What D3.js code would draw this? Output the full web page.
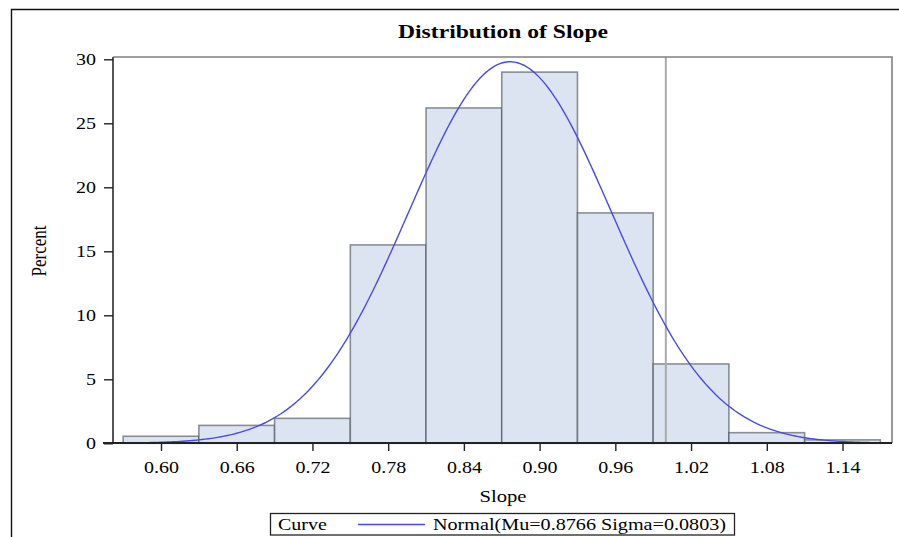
<!DOCTYPE html>
<html>
<head>
<meta charset="utf-8">
<script src="https://cdn.jsdelivr.net/npm/d3@7"></script>
<style>
  html, body { margin: 0; padding: 0; background: #fff; }
  svg { display: block; }
  text { font-family: "Liberation Serif", "Times New Roman", serif; fill: #000; }
</style>
</head>
<body>
<svg id="chart" width="899" height="537"></svg>
<script>
// Histogram bins (midpoints) and percent of observations in each bin
const binMidpoints = [0.60, 0.66, 0.72, 0.78, 0.84, 0.90, 0.96, 1.02, 1.08, 1.14];
const binPercents  = [0.55, 1.4, 1.95, 15.5, 26.2, 29.0, 18.0, 6.2, 0.83, 0.27];
const binWidth = 0.06;

// Fitted normal curve parameters
const normalMu = 0.8766;
const normalSigma = 0.0803;

// Axis ticks and reference line
const xTicks = [0.60, 0.66, 0.72, 0.78, 0.84, 0.90, 0.96, 1.02, 1.08, 1.14];
const yTicks = [0, 5, 10, 15, 20, 25, 30];
const referenceX = 1.0;

const titleText = "Distribution of Slope";
const xLabel = "Slope";
const yLabel = "Percent";
const legendTitle = "Curve";
const legendEntry = "Normal(Mu=0.8766 Sigma=0.0803)";

const svg = d3.select("#chart");
const plot = { left: 113, right: 892, top: 57, bottom: 443 };
const stretch = 1.25;   // horizontal widening of text glyphs

const x = d3.scaleLinear().domain([0.60, 1.14]).range([161, 842.5]);
const y = d3.scaleLinear().domain([0, 30]).range([443.3, 59.3]);

// outer frame
svg.append("path")
  .attr("d", `M11.5,545 L11.5,9.5 L905,9.5`)
  .attr("fill", "none").attr("stroke", "#111").attr("stroke-width", 1.4);

// histogram bars
svg.append("g").selectAll("rect")
  .data(binMidpoints.map((m, i) => ({ m, p: binPercents[i] })))
  .join("rect")
  .attr("x", d => x(d.m - binWidth / 2))
  .attr("width", d => x(d.m + binWidth / 2) - x(d.m - binWidth / 2))
  .attr("y", d => y(d.p))
  .attr("height", d => y(0) - y(d.p))
  .attr("fill", "#dbe4f0")
  .attr("stroke", "rgba(70,75,82,0.6)")
  .attr("stroke-width", 1.6);

// reference line
svg.append("line")
  .attr("x1", x(referenceX)).attr("x2", x(referenceX))
  .attr("y1", plot.top).attr("y2", plot.bottom)
  .attr("stroke", "#aaaaaa").attr("stroke-width", 2);

// fitted normal density, scaled to percent per bin
const pdfPct = v => 100 * binWidth / (normalSigma * Math.sqrt(2 * Math.PI)) *
  Math.exp(-0.5 * Math.pow((v - normalMu) / normalSigma, 2));
const curveX = d3.range(0, 241).map(i => 0.57 + i * (0.60 / 240));
svg.append("path")
  .datum(curveX)
  .attr("d", d3.line().x(v => x(v)).y(v => y(pdfPct(v))))
  .attr("fill", "none").attr("stroke", "#4a4ae6").attr("stroke-width", 1.4);

// plot frame: top and right
svg.append("path")
  .attr("d", `M${plot.left},${plot.top} L${plot.right},${plot.top} L${plot.right},${plot.bottom}`)
  .attr("fill", "none").attr("stroke", "#808080").attr("stroke-width", 1.6);

// y axis
const yAxis = svg.append("g")
  .attr("transform", `translate(${plot.left},0)`)
  .call(d3.axisLeft(y).tickValues(yTicks).tickSize(9).tickPadding(8).tickSizeOuter(0));
yAxis.select(".domain").attr("d", `M0,${plot.top}V${plot.bottom}`)
  .attr("stroke", "#555").attr("stroke-width", 2);
yAxis.selectAll(".tick line").attr("stroke", "#222").attr("stroke-width", 1.4);
yAxis.selectAll(".tick text")
  .style("font-family", '"Liberation Serif", serif').style("font-size", "16px")
  .attr("x", 0).attr("dy", "0.34em")
  .attr("transform", `translate(-17,0) scale(${stretch},1)`);

// x axis
const xAxis = svg.append("g")
  .attr("transform", `translate(0,${plot.bottom})`)
  .call(d3.axisBottom(x).tickValues(xTicks).tickFormat(d3.format(".2f")).tickSize(8).tickPadding(11).tickSizeOuter(0));
xAxis.select(".domain").attr("d", `M${plot.left - 10},0H${plot.right}`)
  .attr("stroke", "#222").attr("stroke-width", 1.8);
xAxis.selectAll(".tick line").attr("stroke", "#222").attr("stroke-width", 1.4);
xAxis.selectAll(".tick text")
  .style("font-family", '"Liberation Serif", serif').style("font-size", "16px")
  .attr("transform", `scale(${stretch},1)`);

// title
svg.append("text")
  .attr("x", 503).attr("y", 38)
  .attr("text-anchor", "middle")
  .attr("font-weight", "bold").attr("font-size", 18.5)
  .attr("textLength", 210).attr("lengthAdjust", "spacingAndGlyphs")
  .text(titleText);

// axis labels
svg.append("text")
  .attr("transform", `translate(503,502) scale(${stretch},1)`)
  .attr("text-anchor", "middle").attr("font-size", 16.5)
  .text(xLabel);
svg.append("text")
  .attr("transform", `translate(46,251) scale(${stretch},1) rotate(-90)`)
  .attr("text-anchor", "middle").attr("font-size", 17)
  .text(yLabel);

// legend
const lg = svg.append("g");
lg.append("rect")
  .attr("x", 270.5).attr("y", 513.5).attr("width", 464).attr("height", 21.5)
  .attr("fill", "#fff").attr("stroke", "#222").attr("stroke-width", 1.3);
lg.append("text")
  .attr("transform", `translate(278,530) scale(${stretch},1)`)
  .attr("font-size", 16).text(legendTitle);
lg.append("line")
  .attr("x1", 358).attr("x2", 425).attr("y1", 524.5).attr("y2", 524.5)
  .attr("stroke", "#4a4ae6").attr("stroke-width", 1.4);
lg.append("text")
  .attr("x", 433).attr("y", 530).attr("font-size", 16)
  .attr("textLength", 293).attr("lengthAdjust", "spacingAndGlyphs")
  .text(legendEntry);
</script>
</body>
</html>
